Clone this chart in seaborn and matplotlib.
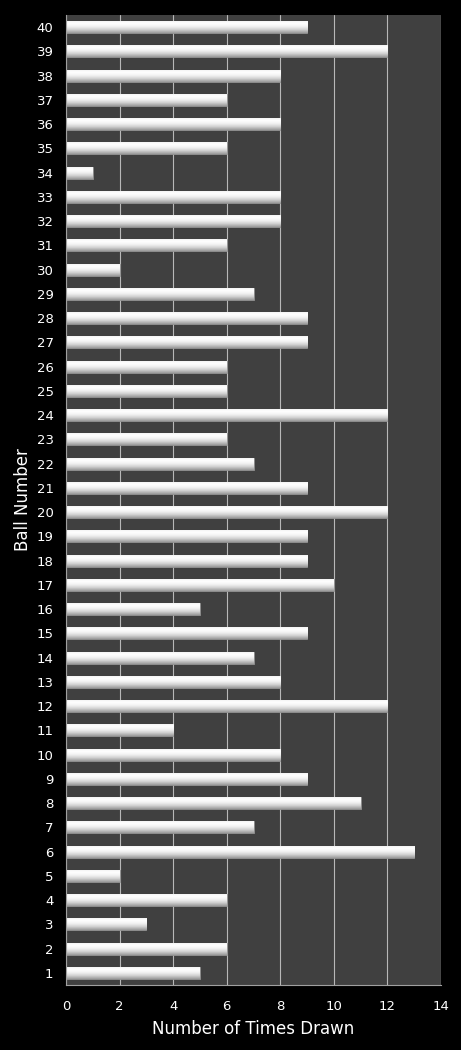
import numpy as np
import pandas as pd
import matplotlib
matplotlib.use("Agg")
import matplotlib.pyplot as plt
import seaborn as sns
from matplotlib.colors import LinearSegmentedColormap

balls = [str(i) for i in range(1, 41)]
times_drawn = [5, 6, 3, 6, 2, 13, 7, 11, 9, 8,
               4, 12, 8, 7, 9, 5, 10, 9, 9, 12,
               9, 7, 6, 12, 6, 6, 9, 9, 7, 2,
               6, 8, 8, 1, 6, 8, 6, 8, 12, 9]
x_ticks = [0, 2, 4, 6, 8, 10, 12, 14]

df = pd.DataFrame({"Ball": balls, "Times": times_drawn})
order = balls[::-1]

sns.set_theme(style="dark")
plt.rcParams['font.family'] = ['DejaVu Sans']

fig = plt.figure(figsize=(4.61, 10.5), dpi=100, facecolor="black")
ax = fig.add_axes([66/461, 65/1050, 375/461, 970/1050])
ax.set_facecolor("#404040")

sns.barplot(data=df, x="Times", y="Ball", order=order, orient="h",
            color="#e0e0e0", width=0.5, edgecolor="#8c8c8c", linewidth=0.6, ax=ax)

# gradient fill for bars
grad = np.linspace(0, 1, 64).reshape(-1, 1)
cmap = LinearSegmentedColormap.from_list("g", ["#f0f0f0", "#ffffff", "#f2f2f2", "#d0d0d0", "#9a9a9a"])
for p in ax.patches:
    x0, y0 = p.get_x(), p.get_y()
    w, h = p.get_width(), p.get_height()
    im = ax.imshow(grad, cmap=cmap, aspect="auto",
                   extent=[x0, x0 + w, y0 + h, y0], zorder=p.get_zorder() + 0.1)
    im.set_clip_path(p)

ax.set_xlim(0, 14)
ax.set_ylim(len(order) - 0.5, -0.5)
ax.set_xticks(x_ticks)
ax.xaxis.grid(True, color="#b8b8b8", linewidth=0.8)
ax.yaxis.grid(False)
ax.set_axisbelow(True)

for s in ["top", "right"]:
    ax.spines[s].set_visible(False)
ax.spines["left"].set_color("#a0a0a0")
ax.spines["bottom"].set_color("#a0a0a0")
ax.spines["left"].set_linewidth(0.8)
ax.spines["bottom"].set_linewidth(0.8)

ax.tick_params(axis="both", colors="white", labelsize=9.5, length=0)
ax.tick_params(axis="y", pad=9)
ax.tick_params(axis="x", pad=11)
ax.set_xlabel("Number of Times Drawn", color="white", fontsize=12, labelpad=5)
ax.set_ylabel("Ball Number", color="white", fontsize=12)
ax.yaxis.set_label_coords(-0.092, 0.5)

fig.savefig("out.png", dpi=100, facecolor="black")
